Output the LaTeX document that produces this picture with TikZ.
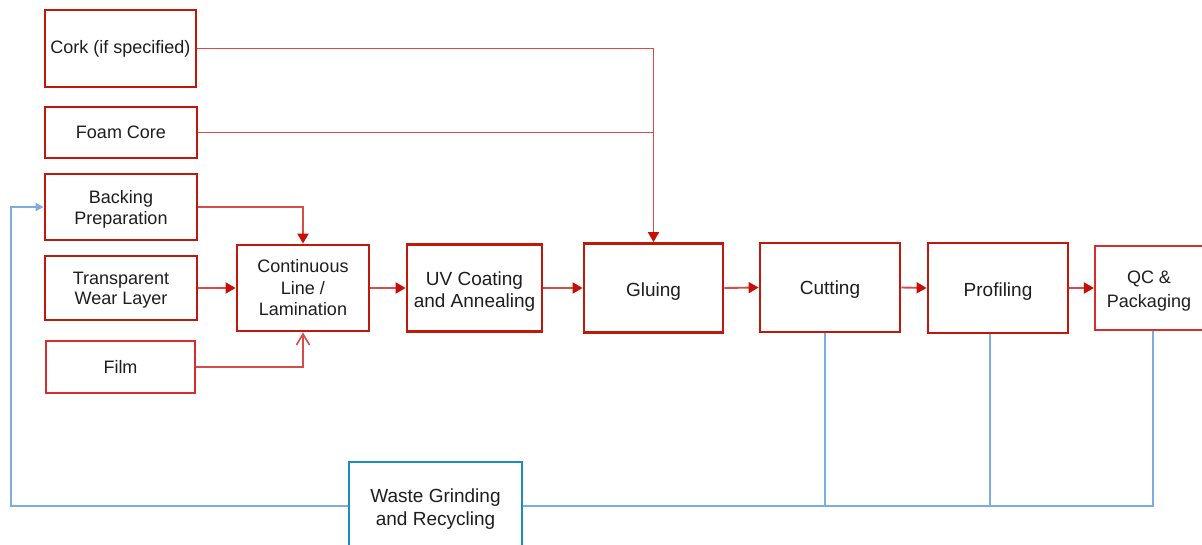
\documentclass[tikz,border=0pt]{standalone}
\usepackage{fontspec}
\setmainfont{Liberation Sans}
\usetikzlibrary{arrows.meta}
\definecolor{boxred}{RGB}{190,25,10}
\definecolor{lightboxred}{RGB}{215,45,45}
\definecolor{linered}{RGB}{215,75,75}
\definecolor{tipred}{RGB}{200,15,5}
\definecolor{lineblue}{RGB}{125,172,222}
\definecolor{wasteblue}{RGB}{30,140,190}
\definecolor{txt}{RGB}{30,30,30}
\newcommand\myTop[1]{\rule{0pt}{#1pt}}
\newcommand\myBot{\rule[-6pt]{0pt}{6pt}}
\tikzset{
  stagebox/.style={draw=boxred, line width=2.8pt, fill=white, inner sep=0pt, align=center,
    text=txt, font=\fontsize{18}{22}\selectfont},
  bigtext/.style={font=\fontsize{19}{22}\selectfont},
  lightbox/.style={stagebox, draw=lightboxred, line width=2.2pt},
  wastebox/.style={stagebox, draw=wasteblue, line width=2.2pt},
  flow/.style={draw=linered, line width=1.9pt, -{Triangle[length=10pt,width=11pt,color=tipred]}},
  openflow/.style={draw=linered, line width=1.9pt, -{Straight Barb[length=11pt,width=13pt,line width=1.6pt]}},
  feed/.style={draw=linered, line width=1.9pt},
  recycle/.style={draw=lineblue, line width=2pt},
}
\begin{document}
\begin{tikzpicture}[x=1pt,y=-1pt]
\useasboundingbox (0,0) rectangle (1202,545);
\coordinate (loop) at (11,506);
\node[stagebox, minimum width=151, minimum height=77] (cork) at (120.5,48.5) {Cork (if specified)};
\node[stagebox, minimum width=152, minimum height=51] (foam) at (121,132.5) {Foam Core};
\node[stagebox, minimum width=152, minimum height=66, font=\fontsize{18}{21}\selectfont] (backing) at (121,207) {\myTop{19.6}Backing\\Preparation\myBot};
\node[stagebox, minimum width=152, minimum height=64, font=\fontsize{18}{20.5}\selectfont] (wear) at (121,288) {\myTop{19.1}Transparent\\Wear Layer\myBot};
\node[lightbox, minimum width=149, minimum height=52] (film) at (120.5,367) {Film};
\node[stagebox, minimum width=132, minimum height=86, font=\fontsize{18}{21.5}\selectfont] (lam) at (303,288) {Continuous\\Line /\\Lamination};
\node[stagebox, bigtext, minimum width=135, minimum height=87] (uv) at (474.5,288) {\myTop{23.4}UV Coating\\and Annealing\myBot};
\node[stagebox, bigtext, minimum width=139, minimum height=89] (glue) at (653.5,288) {\myTop{23}Gluing\myBot};
\node[stagebox, bigtext, minimum width=140, minimum height=89] (cut) at (830,287.5) {\myTop{21}Cutting\myBot};
\node[stagebox, bigtext, minimum width=140, minimum height=90] (prof) at (998,288) {\myTop{23.4}Profiling\myBot};
\node[lightbox, minimum width=109, minimum height=84] (qc) at (1149.5,288) {};
\node[text=txt, inner sep=0pt, font=\fontsize{18}{24}\selectfont, align=center] (qct) at (1149,288) {\myTop{20.6}QC \&\\Packaging\myBot};
\node[wastebox, bigtext, minimum width=173, minimum height=88, font=\fontsize{19}{23}\selectfont] (waste) at (435.5,506) {\myTop{21}Waste Grinding\\and Recycling\myBot};
% red flows
\draw[flow] (cork.east) -| (glue.north);
\draw[feed] (foam.east) -- (foam.east -| glue.north);
\draw[flow] (backing.east) -| (lam.north);
\draw[flow] (wear.east) -- (lam.west);
\draw[openflow] (film.east) -| (lam.south);
\draw[flow] (lam.east) -- (uv.west);
\draw[flow] (uv.east) -- (glue.west);
\draw[flow] (glue.east) -- (cut.west);
\draw[flow] (cut.east) -- (prof.west);
\draw[flow] (prof.east) -- (qc.west);
% blue recycle
\draw[recycle] ([xshift=-5pt]cut.south) -- ([xshift=-5pt]cut.south |- waste.east);
\draw[recycle] ([xshift=-8pt]prof.south) -- ([xshift=-8pt]prof.south |- waste.east);
\draw[recycle] ([xshift=3.5pt]qc.south) |- (waste.east);
\draw[recycle, -{Triangle[length=8pt,width=8pt]}] (waste.west) -| (loop) |- (backing.west);
\end{tikzpicture}
\end{document}
